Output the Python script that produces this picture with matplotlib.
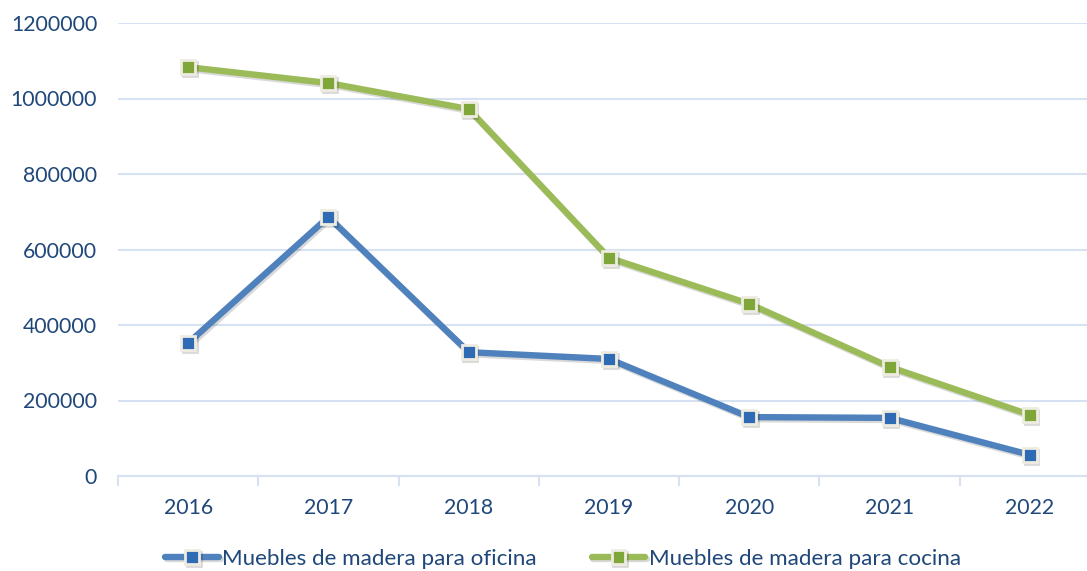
import matplotlib
matplotlib.use("Agg")
import matplotlib.pyplot as plt
import matplotlib.patheffects as pe
import numpy as np

years = ["2016", "2017", "2018", "2019", "2020", "2021", "2022"]
oficina = [352000, 686000, 328000, 310000, 156000, 154000, 56000]
cocina = [1083000, 1041000, 972000, 578000, 456000, 289000, 162000]
series_names = ["Muebles de madera para oficina", "Muebles de madera para cocina"]
yticks = [0, 200000, 400000, 600000, 800000, 1000000, 1200000]

plt.rcParams['font.family'] = ['Lato', 'DejaVu Sans']
text_color = "#1F477A"
grid_color = "#D6E2F3"

fig = plt.figure(figsize=(10.87, 5.71), dpi=100)
W, H = 1087, 571
left, right, top, bottom = 118, 1100, 23, 476
ax = fig.add_axes([left / W, (H - bottom) / H, (right - left) / W, (bottom - top) / H])

x = np.arange(len(years))
shadow = [pe.SimpleLineShadow(offset=(1.2, -1.5), shadow_color='black', alpha=0.15), pe.Normal()]

ax.plot(x, oficina, color="#4F81BD", lw=4.6, marker='s', markersize=10,
        markerfacecolor="#2F6BB5", markeredgecolor="#EEECE1", markeredgewidth=2,
        label=series_names[0], path_effects=shadow, zorder=3, solid_capstyle='round')
ax.plot(x, cocina, color="#9BBB59", lw=4.6, marker='s', markersize=10,
        markerfacecolor="#7FA638", markeredgecolor="#EEECE1", markeredgewidth=2,
        label=series_names[1], path_effects=shadow, zorder=3, solid_capstyle='round')

ax.set_xlim(-0.5, len(years) - 0.5)
ax.set_ylim(0, 1200000)
ax.set_yticks(yticks)
ax.set_yticklabels([str(v) for v in yticks])
ax.set_xticks(x)
ax.set_xticklabels(years)
ax.set_xticks(np.arange(-0.5, len(years), 1.0), minor=True)

for s in ['top', 'right', 'left']:
    ax.spines[s].set_visible(False)
ax.spines['bottom'].set_color(grid_color)
ax.spines['bottom'].set_linewidth(1.5)
ax.grid(axis='y', color=grid_color, linewidth=1.5, zorder=0)
ax.set_axisbelow(True)

ax.tick_params(axis='y', length=0, pad=15, labelsize=15.3, labelcolor=text_color)
ax.tick_params(axis='x', which='major', length=0, pad=16, labelsize=15.3, labelcolor=text_color)
ax.tick_params(axis='x', which='minor', length=7, width=1.5, color=grid_color)

leg = fig.legend(loc='center', bbox_to_anchor=(563 / W, 1 - 559 / H), ncol=2, frameon=False,
                 fontsize=16.1, handlelength=2.4, columnspacing=2.45, handletextpad=0.15,
                 borderaxespad=0)
for t in leg.get_texts():
    t.set_color(text_color)

fig.savefig("out.png", dpi=100)
